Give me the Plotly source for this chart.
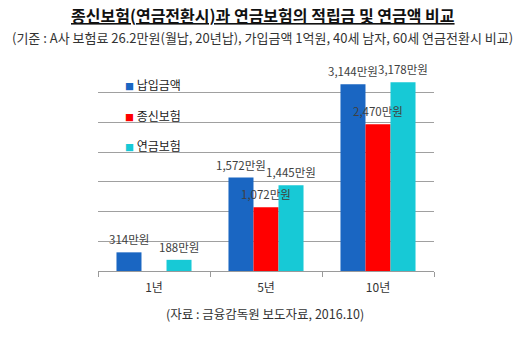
import plotly.graph_objects as go

# Periods and series values (unit: 만원)
categories = ["1년", "5년", "10년"]
series_names = ["납입금액", "종신보험", "연금보험"]
paid = [314, 1572, 3144]
whole_life = [None, 1072, 2470]
annuity = [188, 1445, 3178]
series_values = [paid, whole_life, annuity]
colors = ["#1A66C2", "#FF0000", "#17C9D6"]

title_text = "종신보험(연금전환시)과 연금보험의 적립금 및 연금액 비교"
subtitle_text = "(기준 : A사 보험료 26.2만원(월납, 20년납), 가입금액 1억원, 40세 남자, 60세 연금전환시 비교)"
source_text = "(자료 : 금융감독원 보도자료, 2016.10)"

FONT = "Noto Sans CJK KR"
BAR_PX = 25  # width of one bar in pixels (category 112px, gap 0.33)

fig = go.Figure()
annotations = []
n = len(series_names)
for si, (name, vals, col) in enumerate(zip(series_names, series_values, colors)):
    fig.add_trace(go.Bar(
        x=categories,
        y=vals,
        name=name,
        marker=dict(color=col, line=dict(width=0)),
        showlegend=False,
    ))
    # value labels above each bar, drawn on top of all bars
    for cat, v in zip(categories, vals):
        if v is None:
            continue
        annotations.append(dict(
            text=f"{v:,}만원", x=cat, y=v, xref="x", yref="y",
            xshift=(si - (n - 1) / 2) * BAR_PX, yshift=13,
            xanchor="center", yanchor="middle", showarrow=False,
            font=dict(family=FONT, size=11.5, color="#404040"),
        ))

# Legend rows placed inside the upper-left of the plot area
for i, (name, col) in enumerate(zip(series_names, colors)):
    annotations.append(dict(
        text=f"<span style='color:{col};font-size:9px'>■</span> {name}",
        xref="paper", yref="paper",
        x=0.075, y=0.896 - i * 0.146,
        xanchor="left", yanchor="middle",
        showarrow=False,
        font=dict(family=FONT, size=12, color="#222222"),
    ))

annotations += [
    dict(text=f"<b><u>{title_text}</u></b>",
         xref="paper", yref="paper", x=0.491, y=1.231,
         xanchor="center", yanchor="middle", showarrow=False,
         font=dict(family=FONT, size=16, color="#111111")),
    dict(text=subtitle_text,
         xref="paper", yref="paper", x=0.491, y=1.125,
         xanchor="center", yanchor="middle", showarrow=False,
         font=dict(family=FONT, size=13, color="#333333")),
    dict(text=source_text,
         xref="paper", yref="paper", x=0.497, y=-0.202,
         xanchor="center", yanchor="middle", showarrow=False,
         font=dict(family=FONT, size=12.5, color="#333333")),
]

fig.update_layout(
    width=527, height=340,
    margin=dict(l=98, r=93, t=63, b=69),
    paper_bgcolor="white", plot_bgcolor="white",
    barmode="group",
    bargap=0.33, bargroupgap=0,
    font=dict(family=FONT),
    xaxis=dict(
        showline=True, linecolor="#9a9a9a", linewidth=1,
        ticks="outside", tickson="boundaries", ticklen=5, tickcolor="#9a9a9a",
        tickfont=dict(family=FONT, size=12, color="#333333"),
        ticklabelstandoff=6,
        showgrid=False,
    ),
    yaxis=dict(
        range=[0, 3500], dtick=500,
        showgrid=True, gridcolor="#a0a0a0", gridwidth=1,
        showticklabels=False, zeroline=False,
    ),
    annotations=annotations,
)

fig.write_html("out.html")
